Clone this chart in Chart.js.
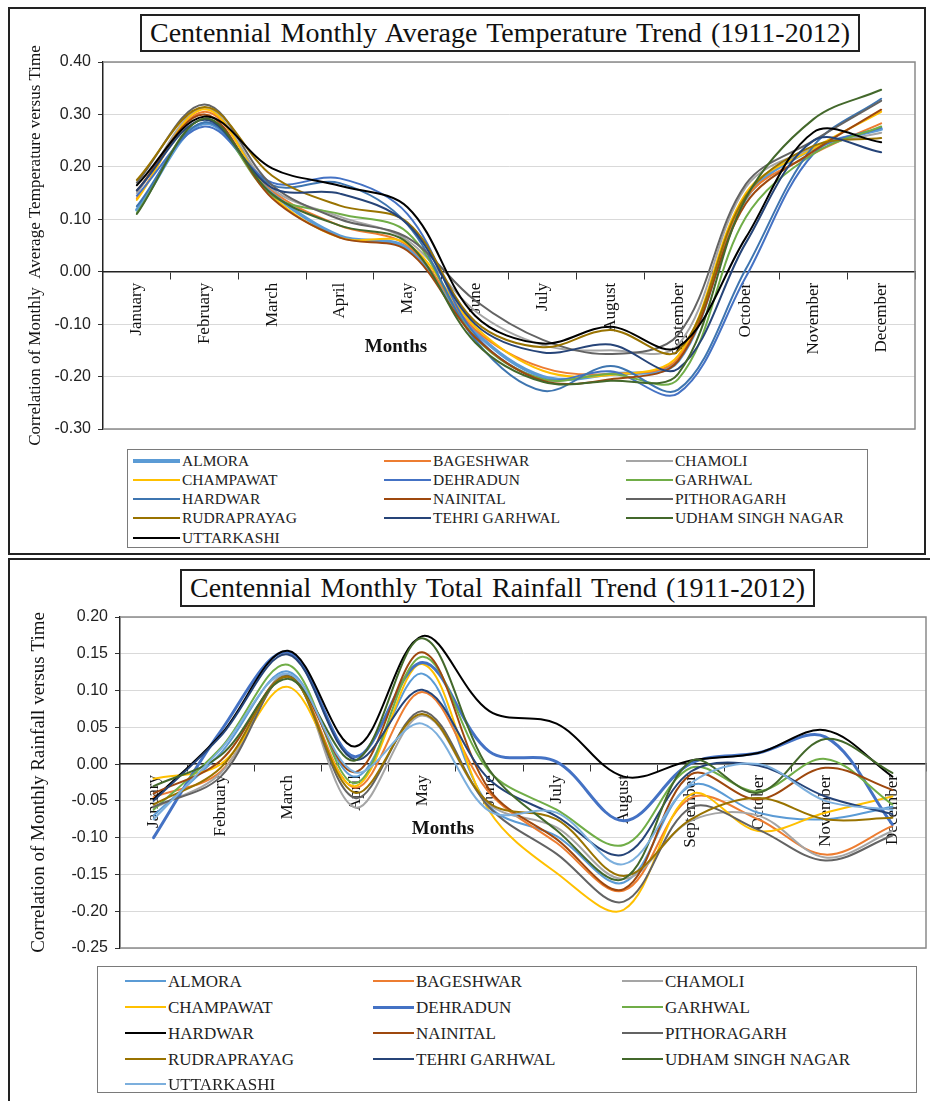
<!DOCTYPE html>
<html><head><meta charset="utf-8">
<script src="https://cdn.jsdelivr.net/npm/chart.js@4.4.1/dist/chart.umd.min.js"></script>
<style>
body{margin:0;background:#fff;}
#root{position:relative;width:930px;height:1101px;overflow:hidden;background:#fff;font-family:"Liberation Serif","Times New Roman",serif;}
.panel{position:absolute;border:2px solid #222;box-sizing:border-box;}
.title{position:absolute;border:2px solid #222;background:#fff;box-sizing:border-box;white-space:nowrap;color:#111;font-size:28px;line-height:34px;text-align:center;}
.legend{position:absolute;border:1.5px solid #7a7a7a;box-sizing:border-box;background:#fff;}
.li{position:absolute;white-space:nowrap;color:#222;line-height:1;transform:translateY(-50%);}
.sw{position:absolute;}
.months{position:absolute;font-weight:bold;font-size:19px;transform:translate(-50%,-50%);white-space:nowrap;color:#111;}
canvas{position:absolute;left:0;}
</style></head><body>
<div id="root">
 <div class="panel" style="left:8px;top:7px;width:918px;height:548px"></div>
 <div class="panel" style="left:8px;top:558px;width:930px;height:560px"></div>
 <canvas id="c1" width="930" height="560" style="top:0"></canvas>
 <canvas id="c2" width="930" height="543" style="top:558px"></canvas>
 <div class="title" id="t1" style="left:140px;top:14px;width:720px;height:38px"><span>Centennial Monthly Average Temperature Trend (1911-2012)</span></div>
 <div class="title" id="t2" style="left:180px;top:569px;width:635px;height:38px"><span>Centennial Monthly Total Rainfall Trend (1911-2012)</span></div>
 <div class="months" style="left:396px;top:346px">Months</div>
 <div class="months" style="left:443px;top:828px">Months</div>
 <div class="legend" id="lg1" style="left:127px;top:449px;width:741px;height:99px"></div>
 <div class="legend" id="lg2" style="left:97px;top:966px;width:820px;height:127px"></div>
</div>
<script>
// ---------- categories & ticks ----------
const months = ['January','February','March','April','May','June','July','August','September','October','November','December'];
const districts = ['ALMORA','BAGESHWAR','CHAMOLI','CHAMPAWAT','DEHRADUN','GARHWAL','HARDWAR','NAINITAL','PITHORAGARH','RUDRAPRAYAG','TEHRI GARHWAL','UDHAM SINGH NAGAR','UTTARKASHI'];
const tempTicks = [-0.30,-0.20,-0.10,0.00,0.10,0.20,0.30,0.40];
const rainTicks = [-0.25,-0.20,-0.15,-0.10,-0.05,0.00,0.05,0.10,0.15,0.20];

// ---------- temperature correlation (top) ----------
const temp_ALMORA      = [0.118,0.283,0.150,0.068,0.045,-0.115,-0.200,-0.195,-0.170,0.140,0.235,0.272];
const temp_BAGESHWAR   = [0.140,0.305,0.155,0.088,0.050,-0.110,-0.183,-0.195,-0.165,0.140,0.225,0.283];
const temp_CHAMOLI     = [0.150,0.312,0.158,0.105,0.060,-0.075,-0.140,-0.150,-0.140,0.161,0.235,0.265];
const temp_CHAMPAWAT   = [0.137,0.310,0.145,0.065,0.053,-0.105,-0.189,-0.197,-0.160,0.150,0.235,0.305];
const temp_DEHRADUN    = [0.145,0.277,0.170,0.178,0.110,-0.120,-0.205,-0.190,-0.232,-0.010,0.225,0.275];
const temp_GARHWAL     = [0.112,0.292,0.145,0.110,0.075,-0.125,-0.205,-0.195,-0.205,0.104,0.225,0.277];
const temp_HARDWAR     = [0.125,0.285,0.165,0.169,0.090,-0.130,-0.227,-0.180,-0.225,0.005,0.240,0.330];
const temp_NAINITAL    = [0.155,0.300,0.140,0.065,0.040,-0.125,-0.208,-0.205,-0.170,0.130,0.230,0.309];
const temp_PITHORAGARH = [0.170,0.319,0.165,0.100,0.065,-0.055,-0.130,-0.157,-0.120,0.167,0.250,0.326];
const temp_RUDRAPRAYAG = [0.175,0.314,0.183,0.126,0.094,-0.095,-0.144,-0.111,-0.151,0.145,0.240,0.255];
const temp_TEHRI       = [0.155,0.290,0.160,0.149,0.091,-0.100,-0.154,-0.139,-0.185,0.055,0.250,0.228];
const temp_UDHAM       = [0.110,0.292,0.148,0.088,0.055,-0.135,-0.210,-0.208,-0.195,0.140,0.291,0.347];
const temp_UTTARKASHI  = [0.165,0.296,0.197,0.164,0.123,-0.084,-0.137,-0.105,-0.144,0.065,0.266,0.247];

// ---------- rainfall correlation (bottom) ----------
const rain_ALMORA      = [-0.070,0.015,0.126,-0.017,0.123,-0.057,-0.098,-0.161,-0.029,-0.066,-0.075,-0.058];
const rain_BAGESHWAR   = [-0.045,-0.010,0.119,-0.032,0.098,-0.039,-0.107,-0.172,-0.046,-0.075,-0.123,-0.084];
const rain_CHAMOLI     = [-0.060,-0.012,0.122,-0.059,0.066,-0.055,-0.086,-0.156,-0.077,-0.070,-0.127,-0.091];
const rain_CHAMPAWAT   = [-0.020,0.000,0.105,-0.030,0.136,-0.064,-0.148,-0.198,-0.041,-0.091,-0.066,-0.044];
const rain_DEHRADUN    = [-0.100,0.045,0.152,0.010,0.138,0.017,0.003,-0.077,0.001,0.015,0.037,-0.082];
const rain_GARHWAL     = [-0.062,0.022,0.135,-0.026,0.146,-0.010,-0.062,-0.110,-0.005,-0.037,0.007,-0.055];
const rain_HARDWAR     = [-0.048,0.040,0.154,0.024,0.174,0.072,0.055,-0.017,0.005,0.015,0.046,-0.017];
const rain_NAINITAL    = [-0.040,0.005,0.119,-0.011,0.152,-0.035,-0.102,-0.170,-0.014,-0.048,-0.005,-0.035];
const rain_PITHORAGARH = [-0.058,-0.017,0.120,-0.046,0.072,-0.059,-0.122,-0.187,-0.059,-0.089,-0.131,-0.097];
const rain_RUDRAPRAYAG = [-0.055,-0.005,0.119,-0.039,0.068,-0.053,-0.075,-0.152,-0.075,-0.046,-0.075,-0.073];
const rain_TEHRI       = [-0.050,0.038,0.149,0.006,0.101,-0.021,-0.071,-0.123,-0.010,-0.002,-0.044,-0.068];
const rain_UDHAM       = [-0.030,0.012,0.116,0.005,0.171,-0.008,-0.090,-0.156,0.004,-0.039,0.034,-0.012];
const rain_UTTARKASHI  = [-0.075,0.020,0.123,-0.011,0.055,-0.064,-0.066,-0.136,-0.026,0.000,-0.050,-0.062];

const tempSeries = [temp_ALMORA,temp_BAGESHWAR,temp_CHAMOLI,temp_CHAMPAWAT,temp_DEHRADUN,temp_GARHWAL,temp_HARDWAR,temp_NAINITAL,temp_PITHORAGARH,temp_RUDRAPRAYAG,temp_TEHRI,temp_UDHAM,temp_UTTARKASHI];
const rainSeries = [rain_ALMORA,rain_BAGESHWAR,rain_CHAMOLI,rain_CHAMPAWAT,rain_DEHRADUN,rain_GARHWAL,rain_HARDWAR,rain_NAINITAL,rain_PITHORAGARH,rain_RUDRAPRAYAG,rain_TEHRI,rain_UDHAM,rain_UTTARKASHI];

// ---------- styles ----------
const tempColors = ['#5B9BD5','#ED7D31','#A5A5A5','#FFC000','#4472C4','#70AD47','#3E75B0','#9E480E','#636363','#997300','#264478','#43682B','#000000'];
const rainColors = ['#5B9BD5','#ED7D31','#A5A5A5','#FFC000','#4472C4','#70AD47','#000000','#9E480E','#636363','#997300','#264478','#43682B','#7CAFDD'];
const tempWidths = [3.5,2,2,2,2,2,2,2,2,2,2,2,2];
const rainWidths = [2,2,2,2,3,2,2,2,2,2,2,2,2];

function buildSets(series, colors, widths){
  return series.map((d,i)=>({label:districts[i],data:d,borderColor:colors[i],backgroundColor:colors[i],borderWidth:widths[i],fill:false,order:series.length-1-i,pointRadius:0}));
}

const framePlugin = {id:'frame', beforeDatasetsDraw(chart){
  const {ctx, chartArea:a} = chart;
  ctx.save(); ctx.strokeStyle='#8a8a8a'; ctx.lineWidth=1.5;
  ctx.beginPath(); ctx.moveTo(a.left,a.top); ctx.lineTo(a.right,a.top); ctx.lineTo(a.right,a.bottom); ctx.lineTo(a.left,a.bottom); ctx.stroke();
  ctx.restore();
}};

function fmt(v){ return Math.abs(v)<1e-9 ? '0.00' : Number(v).toFixed(2); }

function makeChart(id, sets, ticks, yTitle, titleSize, pad, yWidth){
  return new Chart(document.getElementById(id), {
    type:'line',
    data:{labels:months, datasets:sets},
    options:{
      responsive:false, animation:false, devicePixelRatio:1,
      layout:{padding:pad},
      plugins:{legend:{display:false}, title:{display:false}, tooltip:{enabled:false}},
      elements:{point:{radius:0}, line:{tension:0.35, borderCapStyle:'round', borderJoinStyle:'round'}},
      scales:{
        x:{type:'category', offset:true, position:{y:0},
           grid:{display:true, offset:true, drawOnChartArea:false, drawTicks:true, tickLength:7, color:'#333', lineWidth:1},
           border:{display:true, color:'#222', width:1.5},
           ticks:{minRotation:90, maxRotation:90, autoSkip:false, padding:4, color:'#111', font:{family:'Liberation Serif', size:17}}},
        y:{min:ticks[0], max:ticks[ticks.length-1],
           afterBuildTicks(s){ s.ticks = ticks.map(v=>({value:v})); },
           afterFit(s){ s.width = yWidth; },
           grid:{color:'#d9d9d9', lineWidth:1, tickColor:'#333', tickLength:5},
           border:{display:true, color:'#222', width:1.5},
           ticks:{callback:fmt, padding:7, color:'#222', font:{family:'Liberation Sans', size:16}},
           title:{display:true, text:yTitle, color:'#111', font:{family:'Liberation Serif', size:titleSize}, padding:{top:3,bottom:0}}}
      }
    },
    plugins:[framePlugin]
  });
}

makeChart('c1', buildSets(tempSeries,tempColors,tempWidths), tempTicks,
  'Correlation of Monthly  Average Temperature versus Time', 17, {left:22, top:62, right:15, bottom:131}, 81);
makeChart('c2', buildSets(rainSeries,rainColors,rainWidths), rainTicks,
  'Correlation of Monthly Rainfall versus Time', 19, {left:25, top:59, right:4, bottom:153}, 95);

// ---------- legends ----------
function buildLegend(elId, colors, widths, rowsY, colSw, swW, fontSize){
  const box = document.getElementById(elId);
  districts.forEach((name,i)=>{
    const r = Math.floor(i/3), c = i%3;
    const sw = document.createElement('div');
    sw.className='sw';
    const h = Math.max(widths[i],2);
    sw.style.cssText = `left:${colSw[c]}px;top:${rowsY[r]-h/2}px;width:${swW}px;height:${h}px;background:${colors[i]};`;
    box.appendChild(sw);
    const t = document.createElement('div');
    t.className='li'; t.textContent=name;
    t.style.cssText += `left:${colSw[c]+swW+2}px;top:${rowsY[r]}px;font-size:${fontSize}px;`;
    box.appendChild(t);
  });
}
buildLegend('lg1', tempColors, tempWidths, [11,30,49,68,88], [5,256,498], 47, 15.5);
buildLegend('lg2', rainColors, rainWidths, [14,40,66,92,117], [27,275,524], 41, 17);

// ---------- title spacing fit ----------
function fitTitle(id, target){
  const span = document.querySelector('#'+id+' span');
  const w = span.getBoundingClientRect().width;
  const n = (span.textContent.match(/ /g)||[]).length;
  span.style.wordSpacing = ((target-w)/n).toFixed(2)+'px';
}
fitTitle('t1', 700);
fitTitle('t2', 615);
</script>
</body></html>
